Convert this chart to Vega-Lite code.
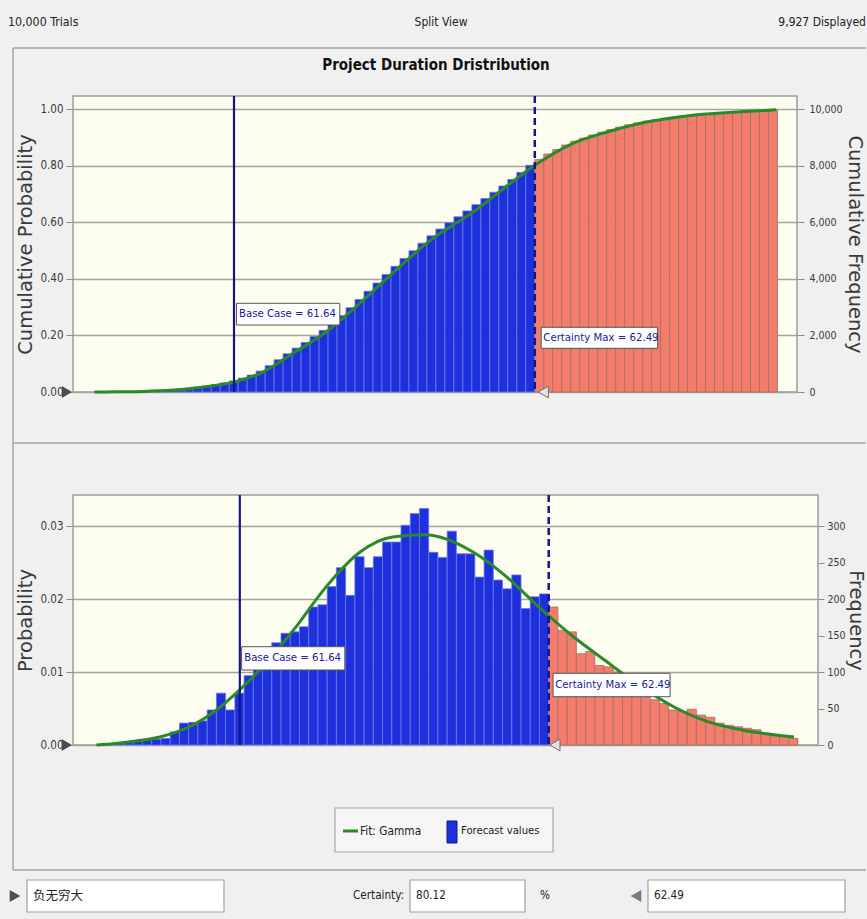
{
  "$schema": "https://vega.github.io/schema/vega-lite/v6.json",
  "background": "#f0f0f0",
  "padding": {"left": 8, "right": 0, "top": 0, "bottom": 0},
  "autosize": {"type": "pad"},
  "spacing": 0,
  "bounds": "flush",
  "config": {
    "view": {"stroke": null},
    "axis": {
      "labelFont": "DejaVu Sans Condensed, Liberation Sans, sans-serif",
      "labelFontSize": 11.5,
      "labelColor": "#3a3a3a",
      "titleFont": "DejaVu Sans",
      "titleFontWeight": "normal",
      "titleFontSize": 19.5,
      "titleColor": "#3a3a3a",
      "tickColor": "#8c8c8c",
      "gridColor": "#a3a3a3",
      "gridWidth": 1.5,
      "domain": false
    },
    "text": {"font": "DejaVu Sans Condensed, Liberation Sans, sans-serif", "fontSize": 11.5, "color": "#222222"}
  },
  "datasets": {
    "hist": [
      {"bin_start": 61.2454, "bin_end": 61.2708, "count": 1, "cumulative": 2, "region": "below"},
      {"bin_start": 61.2708, "bin_end": 61.2962, "count": 2, "cumulative": 5, "region": "below"},
      {"bin_start": 61.2962, "bin_end": 61.3216, "count": 3, "cumulative": 10, "region": "below"},
      {"bin_start": 61.3216, "bin_end": 61.3470, "count": 4, "cumulative": 14, "region": "below"},
      {"bin_start": 61.3470, "bin_end": 61.3724, "count": 5, "cumulative": 20, "region": "below"},
      {"bin_start": 61.3724, "bin_end": 61.3978, "count": 7, "cumulative": 30, "region": "below"},
      {"bin_start": 61.3978, "bin_end": 61.4232, "count": 8, "cumulative": 40, "region": "below"},
      {"bin_start": 61.4232, "bin_end": 61.4486, "count": 9, "cumulative": 60, "region": "below"},
      {"bin_start": 61.4486, "bin_end": 61.4740, "count": 18, "cumulative": 80, "region": "below"},
      {"bin_start": 61.4740, "bin_end": 61.4994, "count": 30, "cumulative": 100, "region": "below"},
      {"bin_start": 61.4994, "bin_end": 61.5248, "count": 31, "cumulative": 130, "region": "below"},
      {"bin_start": 61.5248, "bin_end": 61.5502, "count": 33, "cumulative": 170, "region": "below"},
      {"bin_start": 61.5502, "bin_end": 61.5756, "count": 48, "cumulative": 210, "region": "below"},
      {"bin_start": 61.5756, "bin_end": 61.6010, "count": 71, "cumulative": 260, "region": "below"},
      {"bin_start": 61.6010, "bin_end": 61.6264, "count": 48, "cumulative": 320, "region": "below"},
      {"bin_start": 61.6264, "bin_end": 61.6518, "count": 71, "cumulative": 390, "region": "below"},
      {"bin_start": 61.6518, "bin_end": 61.6772, "count": 95, "cumulative": 490, "region": "below"},
      {"bin_start": 61.6772, "bin_end": 61.7026, "count": 108, "cumulative": 600, "region": "below"},
      {"bin_start": 61.7026, "bin_end": 61.7280, "count": 125, "cumulative": 740, "region": "below"},
      {"bin_start": 61.7280, "bin_end": 61.7534, "count": 140, "cumulative": 930, "region": "below"},
      {"bin_start": 61.7534, "bin_end": 61.7788, "count": 153, "cumulative": 1140, "region": "below"},
      {"bin_start": 61.7788, "bin_end": 61.8042, "count": 155, "cumulative": 1350, "region": "below"},
      {"bin_start": 61.8042, "bin_end": 61.8296, "count": 162, "cumulative": 1550, "region": "below"},
      {"bin_start": 61.8296, "bin_end": 61.8550, "count": 189, "cumulative": 1750, "region": "below"},
      {"bin_start": 61.8550, "bin_end": 61.8804, "count": 192, "cumulative": 1960, "region": "below"},
      {"bin_start": 61.8804, "bin_end": 61.9058, "count": 217, "cumulative": 2180, "region": "below"},
      {"bin_start": 61.9058, "bin_end": 61.9312, "count": 243, "cumulative": 2430, "region": "below"},
      {"bin_start": 61.9312, "bin_end": 61.9566, "count": 205, "cumulative": 2700, "region": "below"},
      {"bin_start": 61.9566, "bin_end": 61.9820, "count": 258, "cumulative": 2980, "region": "below"},
      {"bin_start": 61.9820, "bin_end": 62.0074, "count": 243, "cumulative": 3270, "region": "below"},
      {"bin_start": 62.0074, "bin_end": 62.0328, "count": 258, "cumulative": 3560, "region": "below"},
      {"bin_start": 62.0328, "bin_end": 62.0582, "count": 278, "cumulative": 3850, "region": "below"},
      {"bin_start": 62.0582, "bin_end": 62.0836, "count": 278, "cumulative": 4150, "region": "below"},
      {"bin_start": 62.0836, "bin_end": 62.1090, "count": 301, "cumulative": 4440, "region": "below"},
      {"bin_start": 62.1090, "bin_end": 62.1344, "count": 317, "cumulative": 4720, "region": "below"},
      {"bin_start": 62.1344, "bin_end": 62.1598, "count": 324, "cumulative": 4990, "region": "below"},
      {"bin_start": 62.1598, "bin_end": 62.1852, "count": 264, "cumulative": 5260, "region": "below"},
      {"bin_start": 62.1852, "bin_end": 62.2106, "count": 257, "cumulative": 5520, "region": "below"},
      {"bin_start": 62.2106, "bin_end": 62.2360, "count": 293, "cumulative": 5760, "region": "below"},
      {"bin_start": 62.2360, "bin_end": 62.2614, "count": 262, "cumulative": 5980, "region": "below"},
      {"bin_start": 62.2614, "bin_end": 62.2868, "count": 262, "cumulative": 6190, "region": "below"},
      {"bin_start": 62.2868, "bin_end": 62.3122, "count": 230, "cumulative": 6400, "region": "below"},
      {"bin_start": 62.3122, "bin_end": 62.3376, "count": 267, "cumulative": 6620, "region": "below"},
      {"bin_start": 62.3376, "bin_end": 62.3630, "count": 226, "cumulative": 6840, "region": "below"},
      {"bin_start": 62.3630, "bin_end": 62.3884, "count": 214, "cumulative": 7060, "region": "below"},
      {"bin_start": 62.3884, "bin_end": 62.4138, "count": 233, "cumulative": 7280, "region": "below"},
      {"bin_start": 62.4138, "bin_end": 62.4392, "count": 187, "cumulative": 7510, "region": "below"},
      {"bin_start": 62.4392, "bin_end": 62.4646, "count": 203, "cumulative": 7760, "region": "below"},
      {"bin_start": 62.4646, "bin_end": 62.4900, "count": 207, "cumulative": 8012, "region": "below"},
      {"bin_start": 62.4900, "bin_end": 62.5154, "count": 189, "cumulative": 8220, "region": "above"},
      {"bin_start": 62.5154, "bin_end": 62.5408, "count": 157, "cumulative": 8410, "region": "above"},
      {"bin_start": 62.5408, "bin_end": 62.5662, "count": 155, "cumulative": 8570, "region": "above"},
      {"bin_start": 62.5662, "bin_end": 62.5916, "count": 125, "cumulative": 8730, "region": "above"},
      {"bin_start": 62.5916, "bin_end": 62.6170, "count": 128, "cumulative": 8860, "region": "above"},
      {"bin_start": 62.6170, "bin_end": 62.6424, "count": 109, "cumulative": 8970, "region": "above"},
      {"bin_start": 62.6424, "bin_end": 62.6678, "count": 107, "cumulative": 9080, "region": "above"},
      {"bin_start": 62.6678, "bin_end": 62.6932, "count": 100, "cumulative": 9180, "region": "above"},
      {"bin_start": 62.6932, "bin_end": 62.7186, "count": 88, "cumulative": 9270, "region": "above"},
      {"bin_start": 62.7186, "bin_end": 62.7440, "count": 78, "cumulative": 9360, "region": "above"},
      {"bin_start": 62.7440, "bin_end": 62.7694, "count": 71, "cumulative": 9440, "region": "above"},
      {"bin_start": 62.7694, "bin_end": 62.7948, "count": 62, "cumulative": 9510, "region": "above"},
      {"bin_start": 62.7948, "bin_end": 62.8202, "count": 57, "cumulative": 9570, "region": "above"},
      {"bin_start": 62.8202, "bin_end": 62.8456, "count": 48, "cumulative": 9620, "region": "above"},
      {"bin_start": 62.8456, "bin_end": 62.8710, "count": 46, "cumulative": 9670, "region": "above"},
      {"bin_start": 62.8710, "bin_end": 62.8964, "count": 49, "cumulative": 9710, "region": "above"},
      {"bin_start": 62.8964, "bin_end": 62.9218, "count": 41, "cumulative": 9750, "region": "above"},
      {"bin_start": 62.9218, "bin_end": 62.9472, "count": 38, "cumulative": 9780, "region": "above"},
      {"bin_start": 62.9472, "bin_end": 62.9726, "count": 30, "cumulative": 9810, "region": "above"},
      {"bin_start": 62.9726, "bin_end": 62.9980, "count": 27, "cumulative": 9840, "region": "above"},
      {"bin_start": 62.9980, "bin_end": 63.0234, "count": 25, "cumulative": 9860, "region": "above"},
      {"bin_start": 63.0234, "bin_end": 63.0488, "count": 23, "cumulative": 9880, "region": "above"},
      {"bin_start": 63.0488, "bin_end": 63.0742, "count": 21, "cumulative": 9900, "region": "above"},
      {"bin_start": 63.0742, "bin_end": 63.0996, "count": 16, "cumulative": 9920, "region": "above"},
      {"bin_start": 63.0996, "bin_end": 63.1250, "count": 14, "cumulative": 9940, "region": "above"},
      {"bin_start": 63.1250, "bin_end": 63.1504, "count": 12, "cumulative": 9960, "region": "above"},
      {"bin_start": 63.1504, "bin_end": 63.1758, "count": 9, "cumulative": 9975, "region": "above"}
    ],
    "fitpdf": [
      {"x": 61.246, "p": 0.0000}, {"x": 61.30, "p": 0.0002}, {"x": 61.347, "p": 0.0005},
      {"x": 61.42, "p": 0.0011}, {"x": 61.51, "p": 0.0027}, {"x": 61.576, "p": 0.0048},
      {"x": 61.63, "p": 0.0071}, {"x": 61.695, "p": 0.0103}, {"x": 61.787, "p": 0.0157},
      {"x": 61.878, "p": 0.0217}, {"x": 61.97, "p": 0.0264}, {"x": 62.06, "p": 0.0285},
      {"x": 62.15, "p": 0.0288}, {"x": 62.19, "p": 0.0285}, {"x": 62.283, "p": 0.0264},
      {"x": 62.375, "p": 0.0230}, {"x": 62.467, "p": 0.0187}, {"x": 62.559, "p": 0.0148},
      {"x": 62.65, "p": 0.0114}, {"x": 62.743, "p": 0.0080}, {"x": 62.835, "p": 0.0052},
      {"x": 62.927, "p": 0.0032}, {"x": 63.018, "p": 0.0021}, {"x": 63.11, "p": 0.0014},
      {"x": 63.165, "p": 0.0011}
    ],
    "fitcdf": [
      {"x": 61.246, "p": 0.0}, {"x": 61.30, "p": 0.0005}, {"x": 61.40, "p": 0.003},
      {"x": 61.50, "p": 0.010}, {"x": 61.55, "p": 0.017}, {"x": 61.60, "p": 0.026},
      {"x": 61.64, "p": 0.035}, {"x": 61.714, "p": 0.066}, {"x": 61.807, "p": 0.137},
      {"x": 61.901, "p": 0.213}, {"x": 61.995, "p": 0.313}, {"x": 62.09, "p": 0.422},
      {"x": 62.184, "p": 0.525}, {"x": 62.221, "p": 0.56}, {"x": 62.268, "p": 0.597},
      {"x": 62.315, "p": 0.635}, {"x": 62.41, "p": 0.727}, {"x": 62.49, "p": 0.8012},
      {"x": 62.598, "p": 0.879}, {"x": 62.692, "p": 0.918}, {"x": 62.786, "p": 0.949},
      {"x": 62.881, "p": 0.969}, {"x": 62.974, "p": 0.982}, {"x": 63.069, "p": 0.990},
      {"x": 63.172, "p": 0.997}
    ]
  },
  "vconcat": [
    {
      "width": 724,
      "height": 96,
      "data": {"values": [{}]},
      "layer": [
        {"mark": {"type": "rule", "color": "#a6a6a6", "strokeWidth": 1.5},
         "encoding": {"x": {"datum": 0.015, "type": "quantitative", "scale": {"domain": [0.084198, 0.919262], "nice": false, "zero": false}, "axis": null},
                      "x2": {"datum": 0.9988},
                      "y": {"datum": 0.05223, "type": "quantitative", "scale": {"domain": [0, 0.104461], "reverse": true, "nice": false, "zero": false}, "axis": null}}},
        {"mark": {"type": "rule", "color": "#a6a6a6", "strokeWidth": 1.5},
         "encoding": {"x": {"datum": 0.015, "type": "quantitative", "scale": {"domain": [0.084198, 0.919262], "nice": false, "zero": false}, "axis": null},
                      "y": {"datum": 0.05223, "type": "quantitative", "scale": {"domain": [0, 0.104461], "reverse": true, "nice": false, "zero": false}, "axis": null},
                      "y2": {"datum": 0.94668}}},
        {"mark": {"type": "rule", "color": "#a6a6a6", "strokeWidth": 1.5},
         "encoding": {"x": {"datum": 0.015, "type": "quantitative", "scale": {"domain": [0.084198, 0.919262], "nice": false, "zero": false}, "axis": null},
                      "x2": {"datum": 0.9988},
                      "y": {"datum": 0.48205, "type": "quantitative", "scale": {"domain": [0, 0.104461], "reverse": true, "nice": false, "zero": false}, "axis": null}}},
        {"mark": {"type": "rule", "color": "#a6a6a6", "strokeWidth": 1.5},
         "encoding": {"x": {"datum": 0.015, "type": "quantitative", "scale": {"domain": [0.084198, 0.919262], "nice": false, "zero": false}, "axis": null},
                      "x2": {"datum": 0.9988},
                      "y": {"datum": 0.94668, "type": "quantitative", "scale": {"domain": [0, 0.104461], "reverse": true, "nice": false, "zero": false}, "axis": null}}},
        {"mark": {"type": "text", "align": "left", "baseline": "middle", "fontSize": 12.3, "text": "10,000 Trials"},
         "encoding": {"x": {"datum": 0.009227, "type": "quantitative", "scale": {"domain": [0.084198, 0.919262], "nice": false, "zero": false}, "axis": null},
                      "y": {"datum": 0.023939, "type": "quantitative", "scale": {"domain": [0, 0.104461], "reverse": true, "nice": false, "zero": false}, "axis": null}}},
        {"mark": {"type": "text", "align": "center", "baseline": "middle", "fontSize": 12, "text": "Split View"},
         "encoding": {"x": {"datum": 0.5087, "type": "quantitative", "scale": {"domain": [0.084198, 0.919262], "nice": false, "zero": false}, "axis": null},
                      "y": {"datum": 0.023939, "type": "quantitative", "scale": {"domain": [0, 0.104461], "reverse": true, "nice": false, "zero": false}, "axis": null}}},
        {"mark": {"type": "text", "align": "right", "baseline": "middle", "fontSize": 12, "text": "9,927 Displayed"},
         "encoding": {"x": {"datum": 0.9988, "type": "quantitative", "scale": {"domain": [0.084198, 0.919262], "nice": false, "zero": false}, "axis": null},
                      "y": {"datum": 0.023939, "type": "quantitative", "scale": {"domain": [0, 0.104461], "reverse": true, "nice": false, "zero": false}, "axis": null}}},
        {"mark": {"type": "text", "align": "center", "baseline": "middle", "fontWeight": "bold", "fontSize": 15, "color": "#111111", "text": "Project Duration Dristribution"},
         "encoding": {"x": {"datum": 0.50288, "type": "quantitative", "scale": {"domain": [0.084198, 0.919262], "nice": false, "zero": false}, "axis": null},
                      "y": {"datum": 0.070729, "type": "quantitative", "scale": {"domain": [0, 0.104461], "reverse": true, "nice": false, "zero": false}, "axis": null}}}
      ]
    },
    {
      "width": 724,
      "height": 296,
      "view": {"fill": "#fefef0", "stroke": "#9c9c9c", "strokeWidth": 1.5},
      "resolve": {"scale": {"y": "independent"}},
      "layer": [
        {
          "data": {"name": "hist"},
          "mark": {"type": "rect", "strokeWidth": 0.8},
          "encoding": {
            "x": {"field": "bin_start", "type": "quantitative", "scale": {"domain": [61.185, 63.231], "nice": false, "zero": false},
                  "axis": {"values": [61.2, 61.4, 61.6, 61.8, 62, 62.2, 62.4, 62.6, 62.8, 63, 63.2], "format": ".2f", "title": null, "grid": false, "tickSize": 5, "labelPadding": 6, "labelFontSize": 12}},
            "x2": {"field": "bin_end"},
            "y": {"field": "cumulative", "type": "quantitative", "scale": {"domain": [0, 10460], "nice": false, "zero": false},
                  "axis": {"orient": "right", "values": [0, 2000, 4000, 6000, 8000, 10000], "format": ",d", "grid": false, "title": "Cumulative Frequency", "tickSize": 7, "labelPadding": 5, "labelFontSize": 10.5, "minExtent": 46, "maxExtent": 46, "titlePadding": 1}},
            "y2": {"datum": 0},
            "color": {"field": "region", "type": "nominal", "scale": {"domain": ["below", "above"], "range": ["#1e30dc", "#f47c6a"]}, "legend": null},
            "stroke": {"field": "region", "type": "nominal", "scale": {"domain": ["below", "above"], "range": ["#6a78e6", "#a0706a"]}, "legend": null}
          }
        },
        {
          "data": {"values": [{}]},
          "layer": [
            {"data": {"name": "fitcdf"},
             "mark": {"type": "line", "color": "#2a8a2a", "strokeWidth": 3, "interpolate": "monotone"},
             "encoding": {
               "x": {"field": "x", "type": "quantitative", "scale": {"domain": [61.185, 63.231], "nice": false, "zero": false}, "axis": null},
               "y": {"field": "p", "type": "quantitative", "title": "Cumulative Probability", "scale": {"domain": [0, 1.046], "nice": false, "zero": false},
                     "axis": {"orient": "left", "values": [0, 0.2, 0.4, 0.6, 0.8, 1], "format": ".2f", "grid": true, "title": "Cumulative Probability", "tickSize": 7, "labelPadding": 3, "minExtent": 34, "maxExtent": 34, "titlePadding": 4}}}},
            {"mark": {"type": "rule", "color": "#14148c", "strokeWidth": 2.2},
             "encoding": {"x": {"datum": 61.64, "type": "quantitative", "scale": {"domain": [61.185, 63.231], "nice": false, "zero": false}, "axis": null}}},
            {"mark": {"type": "rule", "color": "#14148c", "strokeWidth": 2.5, "strokeDash": [7, 4]},
             "encoding": {"x": {"datum": 62.49, "type": "quantitative", "scale": {"domain": [61.185, 63.231], "nice": false, "zero": false}, "axis": null}}},
            {"mark": {"type": "rect", "fill": "#ffffff", "stroke": "#555555", "strokeWidth": 1},
             "encoding": {"x": {"datum": 61.647, "type": "quantitative", "scale": {"domain": [61.185, 63.231], "nice": false, "zero": false}, "axis": null},
                          "x2": {"datum": 61.939},
                          "y": {"datum": 0.2367, "type": "quantitative", "title": "Cumulative Probability", "scale": {"domain": [0, 1.046], "nice": false, "zero": false}},
                          "y2": {"datum": 0.3134}}},
            {"mark": {"type": "text", "align": "left", "baseline": "middle", "color": "#20209a", "fontSize": 11.3, "text": "Base Case = 61.64"},
             "encoding": {"x": {"datum": 61.654, "type": "quantitative", "scale": {"domain": [61.185, 63.231], "nice": false, "zero": false}, "axis": null},
                          "y": {"datum": 0.275, "type": "quantitative", "title": "Cumulative Probability", "scale": {"domain": [0, 1.046], "nice": false, "zero": false}}}},
            {"mark": {"type": "rect", "fill": "#ffffff", "stroke": "#555555", "strokeWidth": 1},
             "encoding": {"x": {"datum": 62.508, "type": "quantitative", "scale": {"domain": [61.185, 63.231], "nice": false, "zero": false}, "axis": null},
                          "x2": {"datum": 62.837},
                          "y": {"datum": 0.1544, "type": "quantitative", "title": "Cumulative Probability", "scale": {"domain": [0, 1.046], "nice": false, "zero": false}},
                          "y2": {"datum": 0.2286}}},
            {"mark": {"type": "text", "align": "left", "baseline": "middle", "color": "#20209a", "fontSize": 11.3, "text": "Certainty Max = 62.49"},
             "encoding": {"x": {"datum": 62.514, "type": "quantitative", "scale": {"domain": [61.185, 63.231], "nice": false, "zero": false}, "axis": null},
                          "y": {"datum": 0.1915, "type": "quantitative", "title": "Cumulative Probability", "scale": {"domain": [0, 1.046], "nice": false, "zero": false}}}},
            {"mark": {"type": "point", "shape": "triangle-right", "filled": true, "size": 140, "color": "#4d4d4d", "opacity": 1},
             "encoding": {"x": {"datum": 61.168, "type": "quantitative", "scale": {"domain": [61.185, 63.231], "nice": false, "zero": false}, "axis": null},
                          "y": {"datum": 0, "type": "quantitative", "title": "Cumulative Probability", "scale": {"domain": [0, 1.046], "nice": false, "zero": false}}}},
            {"mark": {"type": "point", "shape": "triangle-left", "filled": true, "size": 140, "fill": "#e2e2e2", "stroke": "#6f6f6f", "strokeWidth": 1, "opacity": 1},
             "encoding": {"x": {"datum": 62.514, "type": "quantitative", "scale": {"domain": [61.185, 63.231], "nice": false, "zero": false}, "axis": null},
                          "y": {"datum": 0, "type": "quantitative", "title": "Cumulative Probability", "scale": {"domain": [0, 1.046], "nice": false, "zero": false}}}}
          ]
        }
      ]
    },
    {
      "width": 724,
      "height": 103,
      "data": {"values": []},
      "mark": "point"
    },
    {
      "width": 745,
      "height": 250,
      "view": {"fill": "#fefef0", "stroke": "#9c9c9c", "strokeWidth": 1.5},
      "resolve": {"scale": {"y": "independent"}},
      "layer": [
        {
          "data": {"name": "hist"},
          "mark": {"type": "rect", "strokeWidth": 0.8},
          "encoding": {
            "x": {"field": "bin_start", "type": "quantitative", "scale": {"domain": [61.181, 63.231], "nice": false, "zero": false},
                  "axis": {"values": [61.2, 61.4, 61.6, 61.8, 62, 62.2, 62.4, 62.6, 62.8, 63, 63.2], "format": ".2f", "title": null, "grid": false, "tickSize": 5, "labelPadding": 9, "labelFontSize": 12}},
            "x2": {"field": "bin_end"},
            "y": {"field": "count", "type": "quantitative", "scale": {"domain": [0, 342.5], "nice": false, "zero": false},
                  "axis": {"orient": "right", "values": [0, 50, 100, 150, 200, 250, 300], "grid": false, "title": "Frequency", "tickSize": 6, "labelPadding": 3, "labelFontSize": 10.5, "minExtent": 26, "maxExtent": 26, "titlePadding": 1}},
            "y2": {"datum": 0},
            "color": {"field": "region", "type": "nominal", "scale": {"domain": ["below", "above"], "range": ["#1e30dc", "#f47c6a"]}, "legend": null},
            "stroke": {"field": "region", "type": "nominal", "scale": {"domain": ["below", "above"], "range": ["#6a78e6", "#a0706a"]}, "legend": null}
          }
        },
        {
          "data": {"values": [{}]},
          "layer": [
            {"data": {"name": "fitpdf"},
             "mark": {"type": "line", "color": "#2a8a2a", "strokeWidth": 3, "interpolate": "monotone"},
             "encoding": {
               "x": {"field": "x", "type": "quantitative", "scale": {"domain": [61.181, 63.231], "nice": false, "zero": false}, "axis": null},
               "y": {"field": "p", "type": "quantitative", "title": "Probability", "scale": {"domain": [0, 0.03425], "nice": false, "zero": false},
                     "axis": {"orient": "left", "values": [0, 0.01, 0.02, 0.03], "format": ".2f", "grid": true, "title": "Probability", "tickSize": 7, "labelPadding": 3, "minExtent": 34, "maxExtent": 34, "titlePadding": 4}}}},
            {"mark": {"type": "rule", "color": "#14148c", "strokeWidth": 2.2},
             "encoding": {"x": {"datum": 61.64, "type": "quantitative", "scale": {"domain": [61.181, 63.231], "nice": false, "zero": false}, "axis": null}}},
            {"mark": {"type": "rule", "color": "#14148c", "strokeWidth": 2.5, "strokeDash": [7, 4]},
             "encoding": {"x": {"datum": 62.49, "type": "quantitative", "scale": {"domain": [61.181, 63.231], "nice": false, "zero": false}, "axis": null}}},
            {"mark": {"type": "rect", "fill": "#ffffff", "stroke": "#555555", "strokeWidth": 1},
             "encoding": {"x": {"datum": 61.645, "type": "quantitative", "scale": {"domain": [61.181, 63.231], "nice": false, "zero": false}, "axis": null},
                          "x2": {"datum": 61.929},
                          "y": {"datum": 0.010274, "type": "quantitative", "title": "Probability", "scale": {"domain": [0, 0.03425], "nice": false, "zero": false}},
                          "y2": {"datum": 0.013466}}},
            {"mark": {"type": "text", "align": "left", "baseline": "middle", "color": "#20209a", "fontSize": 11.3, "text": "Base Case = 61.64"},
             "encoding": {"x": {"datum": 61.652, "type": "quantitative", "scale": {"domain": [61.181, 63.231], "nice": false, "zero": false}, "axis": null},
                          "y": {"datum": 0.01187, "type": "quantitative", "title": "Probability", "scale": {"domain": [0, 0.03425], "nice": false, "zero": false}}}},
            {"mark": {"type": "rect", "fill": "#ffffff", "stroke": "#555555", "strokeWidth": 1},
             "encoding": {"x": {"datum": 62.502, "type": "quantitative", "scale": {"domain": [61.181, 63.231], "nice": false, "zero": false}, "axis": null},
                          "x2": {"datum": 62.824},
                          "y": {"datum": 0.006616, "type": "quantitative", "title": "Probability", "scale": {"domain": [0, 0.03425], "nice": false, "zero": false}},
                          "y2": {"datum": 0.009822}}},
            {"mark": {"type": "text", "align": "left", "baseline": "middle", "color": "#20209a", "fontSize": 11.3, "text": "Certainty Max = 62.49"},
             "encoding": {"x": {"datum": 62.508, "type": "quantitative", "scale": {"domain": [61.181, 63.231], "nice": false, "zero": false}, "axis": null},
                          "y": {"datum": 0.008219, "type": "quantitative", "title": "Probability", "scale": {"domain": [0, 0.03425], "nice": false, "zero": false}}}},
            {"mark": {"type": "point", "shape": "triangle-right", "filled": true, "size": 140, "color": "#4d4d4d", "opacity": 1},
             "encoding": {"x": {"datum": 61.164, "type": "quantitative", "scale": {"domain": [61.181, 63.231], "nice": false, "zero": false}, "axis": null},
                          "y": {"datum": 0, "type": "quantitative", "title": "Probability", "scale": {"domain": [0, 0.03425], "nice": false, "zero": false}}}},
            {"mark": {"type": "point", "shape": "triangle-left", "filled": true, "size": 140, "fill": "#e2e2e2", "stroke": "#6f6f6f", "strokeWidth": 1, "opacity": 1},
             "encoding": {"x": {"datum": 62.507, "type": "quantitative", "scale": {"domain": [61.181, 63.231], "nice": false, "zero": false}, "axis": null},
                          "y": {"datum": 0, "type": "quantitative", "title": "Probability", "scale": {"domain": [0, 0.03425], "nice": false, "zero": false}}}}
          ]
        }
      ]
    },
    {
      "width": 724,
      "height": 174,
      "data": {"values": [{}]},
      "layer": [
        {"mark": {"type": "rect", "fill": "#f6f6f6", "stroke": "#a8a8a8", "strokeWidth": 1.2},
         "encoding": {"x": {"datum": 0.38639, "type": "quantitative", "scale": {"domain": [0.084198, 0.919262], "nice": false, "zero": false}, "axis": null},
                      "x2": {"datum": 0.637832},
                      "y": {"datum": 0.879217, "type": "quantitative", "scale": {"domain": [0.810664, 1.0], "reverse": true, "nice": false, "zero": false}, "axis": null},
                      "y2": {"datum": 0.927095}}},
        {"mark": {"type": "rule", "color": "#2a8a2a", "strokeWidth": 3},
         "encoding": {"x": {"datum": 0.395617, "type": "quantitative", "scale": {"domain": [0.084198, 0.919262], "nice": false, "zero": false}, "axis": null},
                      "x2": {"datum": 0.412918},
                      "y": {"datum": 0.904244, "type": "quantitative", "scale": {"domain": [0.810664, 1.0], "reverse": true, "nice": false, "zero": false}, "axis": null}}},
        {"mark": {"type": "text", "align": "left", "baseline": "middle", "fontSize": 11.8, "text": "Fit: Gamma"},
         "encoding": {"x": {"datum": 0.415225, "type": "quantitative", "scale": {"domain": [0.084198, 0.919262], "nice": false, "zero": false}, "axis": null},
                      "y": {"datum": 0.904244, "type": "quantitative", "scale": {"domain": [0.810664, 1.0], "reverse": true, "nice": false, "zero": false}, "axis": null}}},
        {"mark": {"type": "rect", "fill": "#1e30dc", "stroke": "#14148c", "strokeWidth": 1},
         "encoding": {"x": {"datum": 0.515571, "type": "quantitative", "scale": {"domain": [0.084198, 0.919262], "nice": false, "zero": false}, "axis": null},
                      "x2": {"datum": 0.527105},
                      "y": {"datum": 0.893362, "type": "quantitative", "scale": {"domain": [0.810664, 1.0], "reverse": true, "nice": false, "zero": false}, "axis": null},
                      "y2": {"datum": 0.917301}}},
        {"mark": {"type": "text", "align": "left", "baseline": "middle", "fontSize": 11.2, "text": "Forecast values"},
         "encoding": {"x": {"datum": 0.531719, "type": "quantitative", "scale": {"domain": [0.084198, 0.919262], "nice": false, "zero": false}, "axis": null},
                      "y": {"datum": 0.904244, "type": "quantitative", "scale": {"domain": [0.810664, 1.0], "reverse": true, "nice": false, "zero": false}, "axis": null}}},
        {"mark": {"type": "point", "shape": "triangle-right", "filled": true, "size": 150, "color": "#505050", "opacity": 1},
         "encoding": {"x": {"datum": 0.0173, "type": "quantitative", "scale": {"domain": [0.084198, 0.919262], "nice": false, "zero": false}, "axis": null},
                      "y": {"datum": 0.974973, "type": "quantitative", "scale": {"domain": [0.810664, 1.0], "reverse": true, "nice": false, "zero": false}, "axis": null}}},
        {"mark": {"type": "rect", "fill": "#ffffff", "stroke": "#a0a0a0", "strokeWidth": 1.2},
         "encoding": {"x": {"datum": 0.031142, "type": "quantitative", "scale": {"domain": [0.084198, 0.919262], "nice": false, "zero": false}, "axis": null},
                      "x2": {"datum": 0.258362},
                      "y": {"datum": 0.957563, "type": "quantitative", "scale": {"domain": [0.810664, 1.0], "reverse": true, "nice": false, "zero": false}, "axis": null},
                      "y2": {"datum": 0.992383}}},
        {"mark": {"type": "text", "align": "left", "baseline": "middle", "font": "Noto Sans CJK SC", "fontSize": 12.5, "text": "负无穷大"},
         "encoding": {"x": {"datum": 0.038062, "type": "quantitative", "scale": {"domain": [0.084198, 0.919262], "nice": false, "zero": false}, "axis": null},
                      "y": {"datum": 0.974973, "type": "quantitative", "scale": {"domain": [0.810664, 1.0], "reverse": true, "nice": false, "zero": false}, "axis": null}}},
        {"mark": {"type": "text", "align": "right", "baseline": "middle", "fontSize": 11.6, "text": "Certainty:"},
         "encoding": {"x": {"datum": 0.465975, "type": "quantitative", "scale": {"domain": [0.084198, 0.919262], "nice": false, "zero": false}, "axis": null},
                      "y": {"datum": 0.974973, "type": "quantitative", "scale": {"domain": [0.810664, 1.0], "reverse": true, "nice": false, "zero": false}, "axis": null}}},
        {"mark": {"type": "rect", "fill": "#ffffff", "stroke": "#a0a0a0", "strokeWidth": 1.2},
         "encoding": {"x": {"datum": 0.472895, "type": "quantitative", "scale": {"domain": [0.084198, 0.919262], "nice": false, "zero": false}, "axis": null},
                      "x2": {"datum": 0.605536},
                      "y": {"datum": 0.957563, "type": "quantitative", "scale": {"domain": [0.810664, 1.0], "reverse": true, "nice": false, "zero": false}, "axis": null},
                      "y2": {"datum": 0.992383}}},
        {"mark": {"type": "text", "align": "left", "baseline": "middle", "fontSize": 11.6, "text": "80.12"},
         "encoding": {"x": {"datum": 0.479815, "type": "quantitative", "scale": {"domain": [0.084198, 0.919262], "nice": false, "zero": false}, "axis": null},
                      "y": {"datum": 0.974973, "type": "quantitative", "scale": {"domain": [0.810664, 1.0], "reverse": true, "nice": false, "zero": false}, "axis": null}}},
        {"mark": {"type": "text", "align": "center", "baseline": "middle", "fontSize": 11.6, "text": "%"},
         "encoding": {"x": {"datum": 0.628604, "type": "quantitative", "scale": {"domain": [0.084198, 0.919262], "nice": false, "zero": false}, "axis": null},
                      "y": {"datum": 0.974973, "type": "quantitative", "scale": {"domain": [0.810664, 1.0], "reverse": true, "nice": false, "zero": false}, "axis": null}}},
        {"mark": {"type": "point", "shape": "triangle-left", "filled": true, "size": 150, "color": "#7a7a7a", "opacity": 1},
         "encoding": {"x": {"datum": 0.733564, "type": "quantitative", "scale": {"domain": [0.084198, 0.919262], "nice": false, "zero": false}, "axis": null},
                      "y": {"datum": 0.974973, "type": "quantitative", "scale": {"domain": [0.810664, 1.0], "reverse": true, "nice": false, "zero": false}, "axis": null}}},
        {"mark": {"type": "rect", "fill": "#ffffff", "stroke": "#a0a0a0", "strokeWidth": 1.2},
         "encoding": {"x": {"datum": 0.747405, "type": "quantitative", "scale": {"domain": [0.084198, 0.919262], "nice": false, "zero": false}, "axis": null},
                      "x2": {"datum": 0.974625},
                      "y": {"datum": 0.957563, "type": "quantitative", "scale": {"domain": [0.810664, 1.0], "reverse": true, "nice": false, "zero": false}, "axis": null},
                      "y2": {"datum": 0.992383}}},
        {"mark": {"type": "text", "align": "left", "baseline": "middle", "fontSize": 11.6, "text": "62.49"},
         "encoding": {"x": {"datum": 0.754325, "type": "quantitative", "scale": {"domain": [0.084198, 0.919262], "nice": false, "zero": false}, "axis": null},
                      "y": {"datum": 0.974973, "type": "quantitative", "scale": {"domain": [0.810664, 1.0], "reverse": true, "nice": false, "zero": false}, "axis": null}}}
      ]
    }
  ]
}
